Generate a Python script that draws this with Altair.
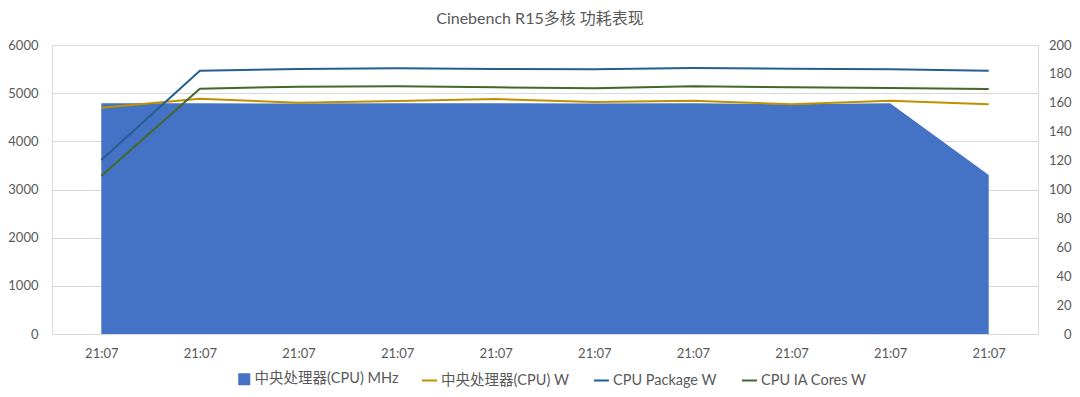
import altair as alt
import pandas as pd

# ---- data ----
x_labels = ["21:07"] * 10
idx = list(range(10))
cpu_mhz = [4790, 4790, 4785, 4790, 4790, 4785, 4790, 4770, 4790, 3300]
cpu_w = [156.6, 162.8, 160.1, 161.2, 162.6, 160.6, 161.5, 159.0, 161.5, 159.0]
package_w = [120.4, 182.2, 183.4, 183.9, 183.4, 183.2, 184.1, 183.6, 183.2, 182.2]
ia_cores_w = [109.3, 169.8, 171.1, 171.4, 170.7, 170.0, 171.4, 170.7, 170.2, 169.6]

area_name = "中央处理器(CPU) MHz"
line_names = ["中央处理器(CPU) W", "CPU Package W", "CPU IA Cores W"]
line_colors = ["#BF9000", "#255E91", "#43682B"]
area_color = "#4472C4"

FONT = "Lato, Noto Sans CJK SC"
GREY = "#595959"

area_df = pd.DataFrame({"i": idx, "label": x_labels, "value": cpu_mhz, "series": area_name})
line_df = pd.concat([
    pd.DataFrame({"i": idx, "label": x_labels, "value": vals, "series": name, "order": k})
    for k, (name, vals) in enumerate(zip(line_names, [cpu_w, package_w, ia_cores_w]))
])

x_enc = alt.X(
    "i:O",
    scale=alt.Scale(type="point", padding=0.5),
    axis=alt.Axis(
        title=None, labelExpr="'21:07'", labelAngle=0, ticks=False, domain=False,
        labelPadding=13, labelFontSize=13, labelColor=GREY, labelFont=FONT, grid=False,
    ),
)

area = alt.Chart(area_df).mark_area(opacity=1, line=False).encode(
    x=x_enc,
    y=alt.Y(
        "value:Q",
        scale=alt.Scale(domain=[0, 6000], nice=False),
        axis=alt.Axis(
            title=None, values=[0, 1000, 2000, 3000, 4000, 5000, 6000], orient="left",
            format="d", ticks=False, domain=False, grid=True, gridColor="#D9D9D9", gridWidth=1,
            labelPadding=14, labelFontSize=13, labelColor=GREY, labelFont=FONT,
        ),
    ),
    fill=alt.Fill(
        "series:N",
        scale=alt.Scale(domain=[area_name], range=[area_color]),
        legend=alt.Legend(
            title=None, orient="none", legendX=185, legendY=327, direction="horizontal",
            symbolType="square", symbolSize=144, symbolStrokeWidth=0, labelOffset=3,
            labelFontSize=14.5, labelColor=GREY, labelFont=FONT, padding=0,
        ),
    ),
)

lines = alt.Chart(line_df).mark_line(strokeWidth=2).encode(
    x=x_enc,
    y=alt.Y(
        "value:Q",
        scale=alt.Scale(domain=[0, 200], nice=False),
        axis=alt.Axis(
            title=None, values=list(range(0, 201, 20)), orient="right",
            format="d", ticks=False, domain=False, grid=False,
            labelPadding=33, labelAlign="right", labelFontSize=13, labelColor=GREY, labelFont=FONT,
        ),
    ),
    stroke=alt.Stroke(
        "series:N",
        scale=alt.Scale(domain=line_names, range=line_colors),
        legend=alt.Legend(
            title=None, orient="none", legendX=369, legendY=327, direction="horizontal",
            symbolType="stroke", symbolSize=225, symbolStrokeWidth=2, labelOffset=3,
            columnPadding=21, labelFontSize=14.5, labelColor=GREY, labelFont=FONT, padding=0,
        ),
    ),
    order="order:Q",
)

chart = alt.layer(area, lines).resolve_scale(y="independent").properties(
    width=986,
    height=289,
    autosize=alt.AutoSizeParams(type="none"),
    padding={"left": 44, "top": 37, "right": 34, "bottom": 55},
    title=alt.TitleParams(
        "Cinebench R15多核 功耗表现", fontSize=16, font=FONT, color=GREY,
        fontWeight="normal", anchor="middle", offset=12, dx=-5,
    ),
).configure_view(stroke=None).configure(background="white")

chart.save("out.html", embed_options={"renderer": "svg", "actions": False})
